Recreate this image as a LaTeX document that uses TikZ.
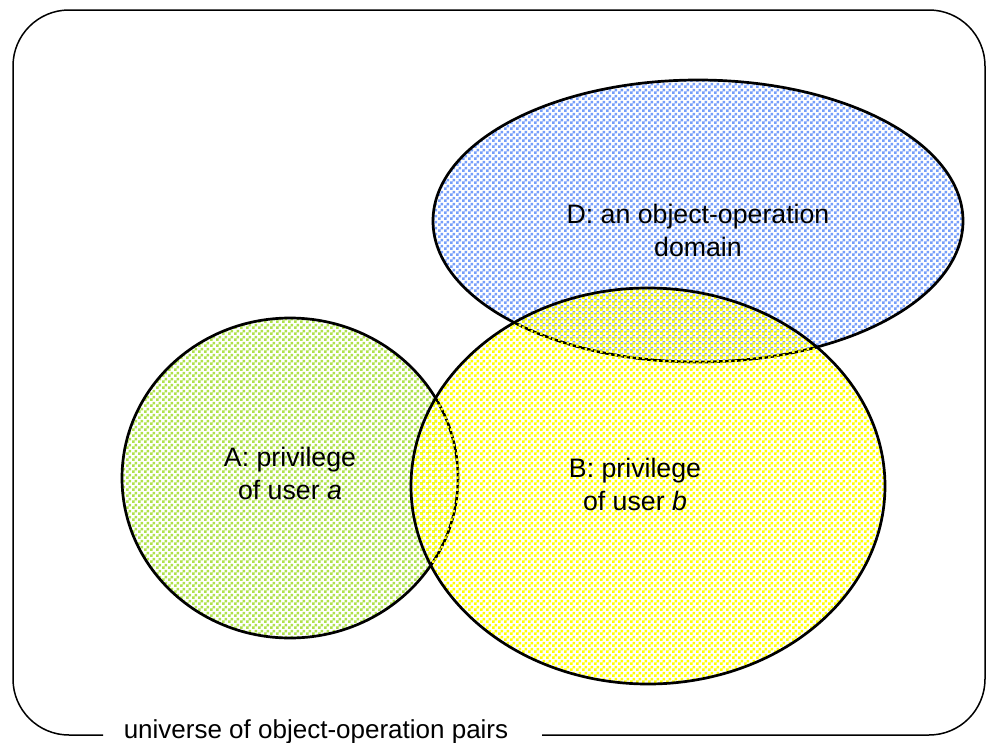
\documentclass[tikz,border=0pt]{standalone}
\usepackage{fontspec}
\setmainfont{Liberation Sans}
\usetikzlibrary{shapes.geometric,patterns}

% checkerboard used for the set fills
\pgfdeclarepatternformonly{checks}{\pgfpointorigin}{\pgfqpoint{6pt}{6pt}}{\pgfqpoint{6pt}{6pt}}{%
  \pgfpathrectangle{\pgfpointorigin}{\pgfqpoint{3pt}{3pt}}%
  \pgfpathrectangle{\pgfqpoint{3pt}{3pt}}{\pgfqpoint{3pt}{3pt}}%
  \pgfusepath{fill}}

\definecolor{setgreen}{RGB}{175,225,75}
\definecolor{setblue}{RGB}{118,158,250}
\definecolor{setyellow}{RGB}{255,255,0}

\begin{document}
\begin{tikzpicture}[x=1pt,y=-1pt,
  setshape/.style={ellipse, draw=black, line width=2.7pt, inner sep=0pt, outer sep=0pt},
  opaqueset/.style={setshape, preaction={fill=white}, pattern=checks, pattern color=#1},
  clearset/.style={setshape, pattern=checks, pattern color=#1},
  lbl/.style={font=\fontsize{26.7}{33}\selectfont, align=center, inner sep=0pt},
  caption/.style={font=\fontsize{26}{30}\selectfont, inner sep=0pt},
  frame/.style={line width=1.5pt, rounded corners=56pt}]

\useasboundingbox (0,0) rectangle (988,742);

% sets A and D, then B laid over them
\node[opaqueset=setgreen, minimum width=336pt, minimum height=320pt] (A) at (290,478) {};
\node[opaqueset=setblue, minimum width=530pt, minimum height=282pt] (D) at (698,221) {};
\node[clearset=setyellow, minimum width=474pt, minimum height=396pt] (B) at (648,486) {};

% set labels
\node[lbl] (labA) at (290,473) {A: privilege\\of user \textit{a}};
\node[lbl] (labB) at (635,484) {B: privilege\\of user \textit{b}};
\node[lbl] (labD) at (698,230) {D: an object-operation\\domain};

% universe frame, open where its caption sits
\node[caption, anchor=base] (univ) at (316,738) {universe of object-operation pairs};
\coordinate (gapL) at (103,735);
\coordinate (gapR) at (542,735);
\draw[frame] (gapR) -- (985,735) -- (985,10) -- (13,10) -- (13,735) -- (gapL);

\end{tikzpicture}
\end{document}
